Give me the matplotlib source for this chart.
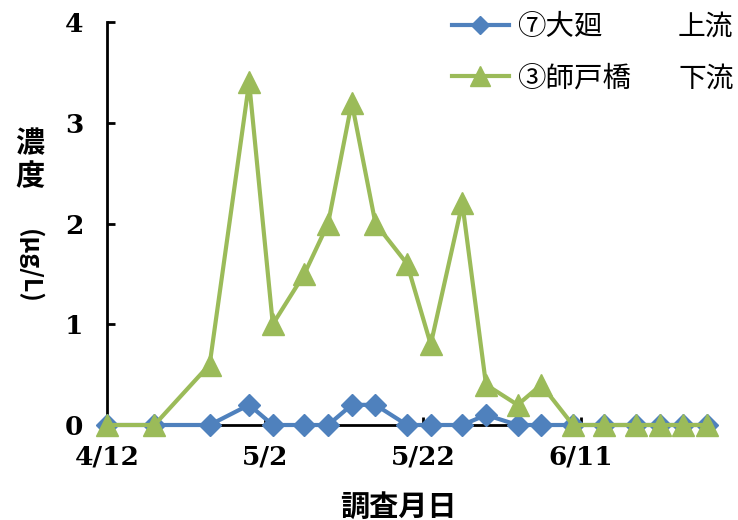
import datetime as dt
import matplotlib
matplotlib.use("Agg")
import matplotlib.pyplot as plt
import matplotlib.dates as mdates
from matplotlib.ticker import FuncFormatter

# Survey dates (2012 season) and concentrations in µg/L
dates = ["04-12", "04-18", "04-25", "04-30", "05-03", "05-07", "05-10",
         "05-13", "05-16", "05-20", "05-23", "05-27", "05-30", "06-03",
         "06-06", "06-10", "06-14", "06-18", "06-21", "06-24", "06-27"]
upstream_ogura = [0, 0, 0, 0.2, 0, 0, 0, 0.2, 0.2, 0, 0, 0, 0.1, 0,
                  0, 0, 0, 0, 0, 0, 0]
downstream_shido = [0, 0, 0.6, 3.4, 1.0, 1.5, 2.0, 3.2, 2.0, 1.6, 0.8,
                    2.2, 0.4, 0.2, 0.4, 0, 0, 0, 0, 0, 0]
x_ticks = ["04-12", "05-02", "05-22", "06-11"]
y_ticks = [0, 1, 2, 3, 4]

site_names = ["⑦大廻", "③師戸橋"]
site_reach = ["上流", "下流"]

def to_date(s):
    m, d = s.split("-")
    return dt.date(2012, int(m), int(d))

x = [to_date(s) for s in dates]

BLUE = "#4F81BD"
GREEN = "#9BBB59"
cjk = ["Noto Sans CJK JP", "DejaVu Sans"]
W, H = 738, 520

fig = plt.figure(figsize=(W / 100, H / 100), dpi=100)
ax = fig.add_axes([107 / W, 1 - 425 / H, 608 / W, 403 / H])

ax.plot(x, upstream_ogura, color=BLUE, lw=3.0, marker="D", ms=11,
        mec=BLUE, mfc=BLUE, label=site_names[0], zorder=3, clip_on=False)
ax.plot(x, downstream_shido, color=GREEN, lw=3.0, marker="^", ms=16.5,
        mec=GREEN, mfc=GREEN, label=site_names[1], zorder=4, clip_on=False)

start = to_date("04-12")
ax.set_xlim(start, start + dt.timedelta(days=77.45))
ax.set_ylim(0, 4)
ax.set_xticks([to_date(s) for s in x_ticks])
ax.xaxis.set_major_formatter(FuncFormatter(
    lambda v, p: f"{mdates.num2date(v).month}/{mdates.num2date(v).day}"))
ax.set_yticks(y_ticks)

for side in ("top", "right"):
    ax.spines[side].set_visible(False)
for side in ("left", "bottom"):
    ax.spines[side].set_linewidth(2.0)
    ax.spines[side].set_color("black")
    ax.spines[side].set_zorder(2)

ax.tick_params(direction="in", length=6, width=2)
ax.tick_params(axis="x", pad=14)
ax.tick_params(axis="y", pad=17)
for lab in ax.get_xticklabels() + ax.get_yticklabels():
    lab.set_fontfamily("DejaVu Serif")
    lab.set_fontweight("bold")
    lab.set_fontsize(19)

ax.set_xlabel("調査月日", fontfamily=cjk, fontweight="bold", fontsize=21)
ax.xaxis.set_label_coords(0.479, -0.165)

# vertical y-axis title: upright kanji followed by the rotated unit
fig.text(30 / W, 1 - 143 / H, "濃", fontfamily=cjk, fontweight="bold",
         fontsize=21, ha="center", va="center")
fig.text(30 / W, 1 - 176 / H, "度", fontfamily=cjk, fontweight="bold",
         fontsize=21, ha="center", va="center")
fig.text(30 / W, 1 - 266 / H, "(μg/L)", fontfamily=cjk, fontweight="bold",
         fontsize=18, rotation=-90, ha="center", va="center")

leg = fig.legend(loc="upper left", bbox_to_anchor=(452 / W, 1 - 12 / H),
                 frameon=False, prop={"family": cjk, "size": 20.5},
                 handlelength=2.0, handletextpad=0.3, labelspacing=0.75,
                 borderpad=0, borderaxespad=0)
for h in leg.legend_handles:
    h.set_markersize(h.get_markersize() * 0.85)

# reach labels aligned with the legend rows
fig.canvas.draw()
inv = fig.transFigure.inverted()
for txt, reach in zip(leg.get_texts(), site_reach):
    bb = txt.get_window_extent()
    yc = inv.transform((0, (bb.y0 + bb.y1) / 2))[1]
    fig.text(678 / W, yc, reach, fontfamily=cjk, fontsize=20,
             ha="left", va="center")

fig.savefig("out.png", dpi=100)
